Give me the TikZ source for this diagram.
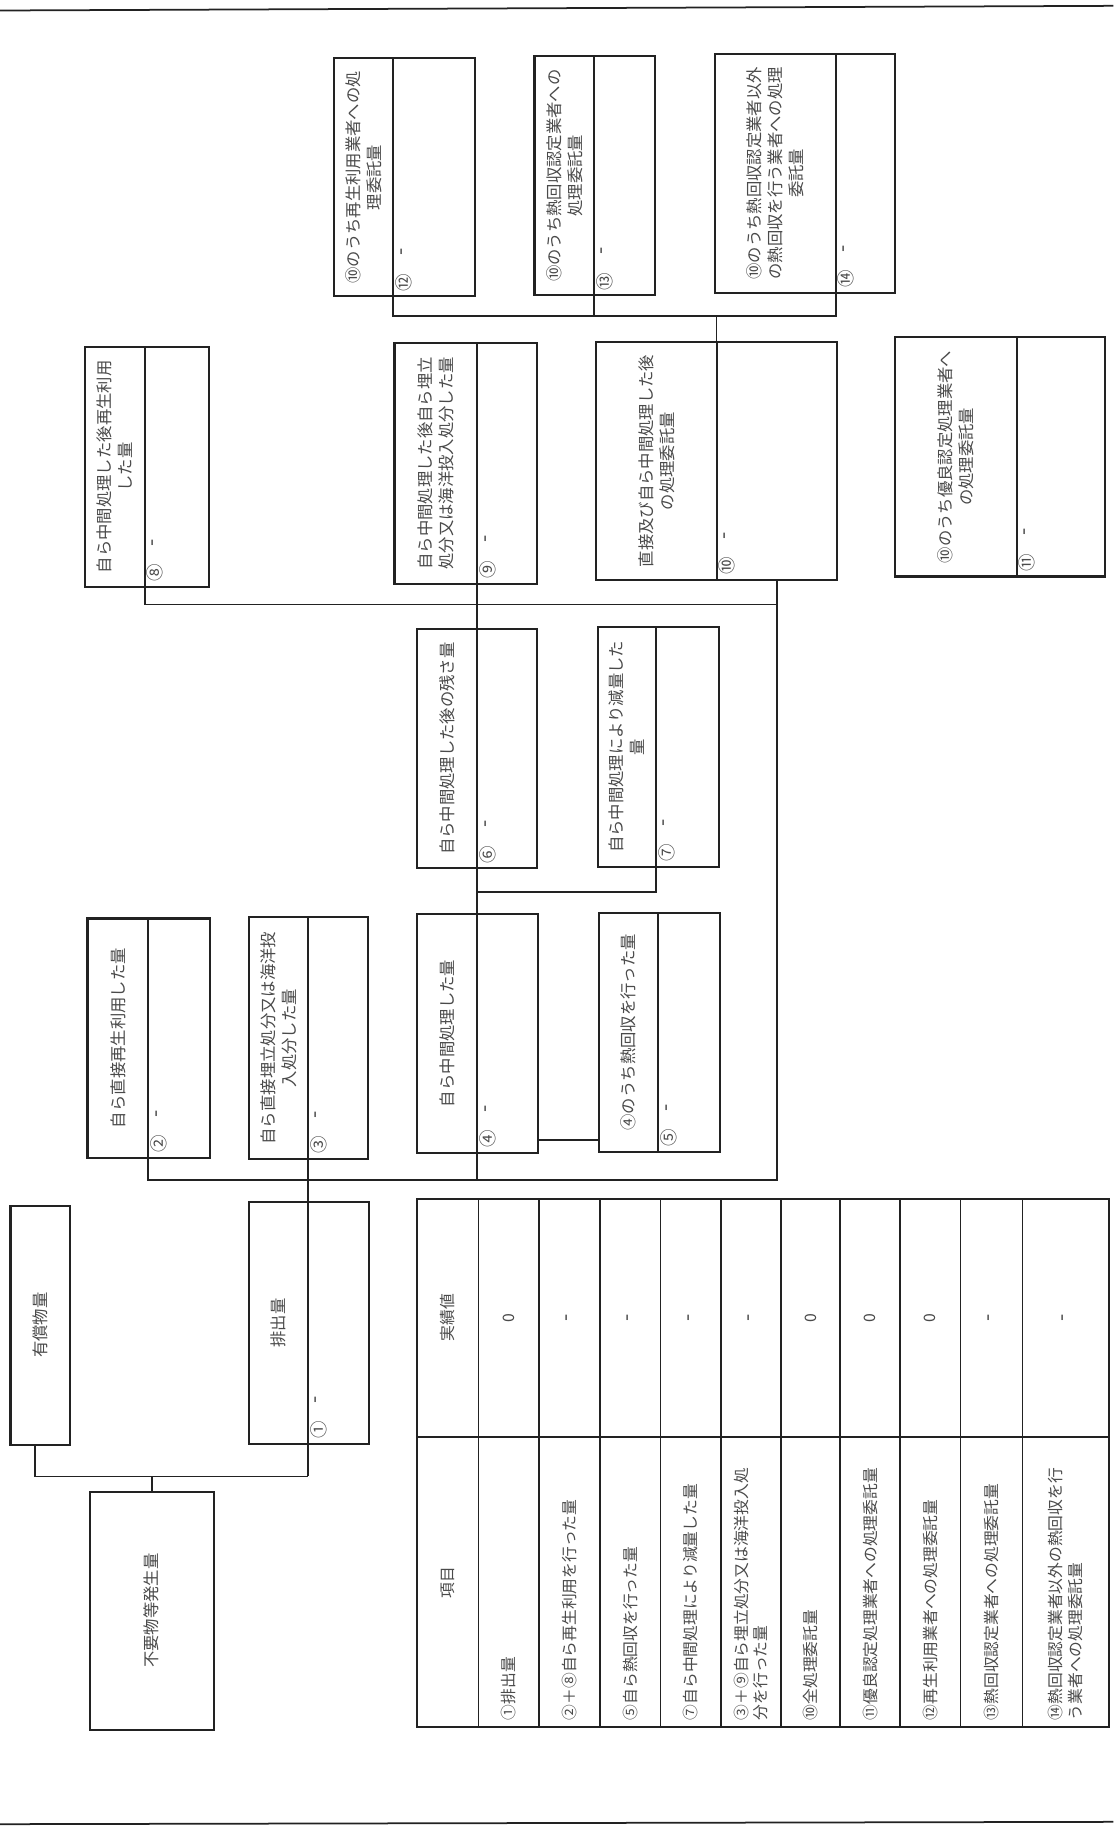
\documentclass[tikz,border=0pt]{standalone}
\usepackage{fontspec}
\newfontfamily\jp{Noto Sans CJK JP}
\definecolor{ink}{HTML}{222222}
\definecolor{txt}{HTML}{4A4A4A}
\tikzset{
 boxst/.style={draw=ink, line width=1.8pt, inner sep=0pt, outer sep=0pt},
 conn/.style={draw=ink, line width=1.5pt},
 tabl/.style={draw=ink, line width=1.5pt},
 lbl/.style={rotate=90, text=txt, font=\jp\fontsize{14}{18}\selectfont, align=center, inner sep=0pt},
 numst/.style={rotate=90, text=txt, font=\jp\fontsize{15}{15}\selectfont, inner sep=0pt},
 dashst/.style={rotate=90, text=txt, font=\jp\fontsize{18}{18}\selectfont, inner sep=0pt},
 cellt/.style={rotate=90, text=txt, font=\jp\fontsize{13.5}{17}\selectfont, align=left, anchor=west, inner sep=0pt},
 valt/.style={rotate=90, text=txt, font=\jp\fontsize{13.5}{17}\selectfont, inner sep=0pt},
 valdash/.style={rotate=90, text=txt, font=\jp\fontsize{18}{18}\selectfont, inner sep=0pt},
}
\newcommand{\flowbox}[8]{%
  \node[boxst, minimum width={(#3-#2)*1pt}, minimum height={(#5-#4)*1pt}] (#1) at ({(#2+#3)/2},{(#4+#5)/2}) {};
  \draw[boxst] (#6,#4) -- (#6,#5);
  \node[lbl] (#1t) at ({(#2+#6)/2},{(#4+#5)/2}) {#7};
  \node[numst] (#1n) at (#6+9,#5-12) {#8};
  \node[dashst] (#1d) at (#6+9,#5-38) {-};
}
\begin{document}
\begin{tikzpicture}[x=1pt,y=-1pt]
\useasboundingbox (0,0) rectangle (954,1568);
\fill[white] (0,0) rectangle (954,1568);
% page edges
\coordinate (pt1) at (0,9); \coordinate (pt2) at (954,5);
\coordinate (pb1) at (0,1563); \coordinate (pb2) at (954,1561);
\draw[conn] (pt1) -- (pt2);
\draw[conn] (pb1) -- (pb2);

% plain boxes
\node[boxst, minimum width=106pt, minimum height=204pt] (hassei) at (130,1380) {};
\node[lbl] (hasseit) at (hassei.center) {不要物等発生量};
\node[boxst, minimum width=51pt, minimum height=205pt] (yusho) at (34.5,1135.5) {};
\node[lbl] (yushot) at (yusho.center) {有償物量};

% flow boxes: name, x1, x2, y1, y2, divider, label, number
\flowbox{b1}{213}{316}{1030}{1237}{264}{排出量}{①}
\flowbox{b2}{75}{180}{787}{992}{127}{自ら直接再生利用した量}{②}
\flowbox{b3}{213}{315}{786}{993}{264}{自ら直接埋立処分又は海洋投\\入処分した量}{③}
\flowbox{b4}{357}{461}{783}{988}{409}{自ら中間処理した量}{④}
\flowbox{b5}{513}{617}{782}{987}{564}{④のうち熱回収を行った量}{⑤}
\flowbox{b6}{357}{460}{539}{744}{409}{自ら中間処理した後の残さ量}{⑥}
\flowbox{b7}{512}{616}{537}{743}{562}{自ら中間処理により減量した\\量}{⑦}
\flowbox{b8}{73}{179}{297}{503}{124}{自ら中間処理した後再生利用\\した量}{⑧}
\flowbox{b9}{338}{460}{294}{500}{409}{自ら中間処理した後自ら埋立\\処分又は海洋投入処分した量}{⑨}
\flowbox{b10}{511}{717}{293}{497}{614}{直接及び自ら中間処理した後\\の処理委託量}{⑩}
\flowbox{b11}{767}{947}{289}{494}{871}{⑩のうち優良認定処理業者へ\\の処理委託量}{⑪}
\flowbox{b12}{286}{407}{50}{254}{337}{⑩のうち再生利用業者への処\\理委託量}{⑫}
\flowbox{b13}{458}{561}{48}{253}{509}{⑩のうち熱回収認定業者への\\処理委託量}{⑬}
\flowbox{b14}{613}{767}{46}{251}{716}{⑩のうち熱回収認定業者以外\\の熱回収を行う業者への処理\\委託量}{⑭}

% connectors
\coordinate (jy) at (30,1265);
\coordinate (jh) at (130,1265);
\coordinate (j1) at (264,1265);
\draw[conn] (yusho.south -| jy) -- (jy) -- (j1);
\draw[conn] (jh) -- (hassei.north);
\draw[conn] (b3.north -| j1) -- (j1);

\coordinate (k2) at (127,1011);
\coordinate (k4) at (409,1011);
\coordinate (k9) at (666,1011);
\draw[conn] (b2.north -| k2) -- (k2) -- (k9) -- (k9 |- b10.south);
\draw[conn] (b9.north -| k4) -- (k4);

\coordinate (m8) at (124,518);
\coordinate (m10) at (666,518);
\draw[conn] (b8.north -| m8) -- (m8) -- (m10);

\coordinate (g6) at (409,764);
\coordinate (g7) at (562,764);
\draw[conn] (g6) -- (g7) -- (g7 |- b7.north);

\coordinate (h4) at (461,977);
\draw[conn] (b4.east |- h4) -- (b5.west |- h4);

\coordinate (t12) at (337,271);
\coordinate (t13) at (509,271);
\coordinate (t10) at (614,271);
\coordinate (t14) at (716,271);
\draw[conn] (b12.north -| t12) -- (t12) -- (t14) -- (b14.north -| t14);
\draw[conn] (b13.north -| t13) -- (t13);
\draw[conn] (t10) -- (b10.south -| t10);

% table
\node[boxst, minimum width=593pt, minimum height=453pt] (tab) at (653.5,1253.5) {};
\foreach \xx in {410,462,514,566,618,669,720,771,823,876}{
  \draw[tabl] (\xx,1027) -- (\xx,1480);
}
\draw[tabl] (357,1231) -- (950,1231);
\node[valt] (hk) at (383.5,1356) {項目};
\node[valt] (hj) at (383.5,1129) {実績値};

\node[cellt] (r1) at (436,1474) {①排出量};
\node[cellt] (r2) at (488,1474) {②＋⑧自ら再生利用を行った量};
\node[cellt] (r3) at (540,1474) {⑤自ら熱回収を行った量};
\node[cellt] (r4) at (592,1474) {⑦自ら中間処理により減量した量};
\node[cellt] (r5) at (643.5,1474) {③＋⑨自ら埋立処分又は海洋投入処\\分を行った量};
\node[cellt] (r6) at (694.5,1474) {⑩全処理委託量};
\node[cellt] (r7) at (745.5,1474) {⑪優良認定処理業者への処理委託量};
\node[cellt] (r8) at (797,1474) {⑫再生利用業者への処理委託量};
\node[cellt] (r9) at (849.5,1474) {⑬熱回収認定業者への処理委託量};
\node[cellt] (r10) at (913,1474) {⑭熱回収認定業者以外の熱回収を行\\う業者への処理委託量};

\node[valt] (v1) at (436,1129) {0};
\node[valdash] (v2) at (488,1129) {-};
\node[valdash] (v3) at (540,1129) {-};
\node[valdash] (v4) at (592,1129) {-};
\node[valdash] (v5) at (643.5,1129) {-};
\node[valt] (v6) at (694.5,1129) {0};
\node[valt] (v7) at (745.5,1129) {0};
\node[valt] (v8) at (797,1129) {0};
\node[valdash] (v9) at (849.5,1129) {-};
\node[valdash] (v10) at (913,1129) {-};
\end{tikzpicture}
\end{document}
